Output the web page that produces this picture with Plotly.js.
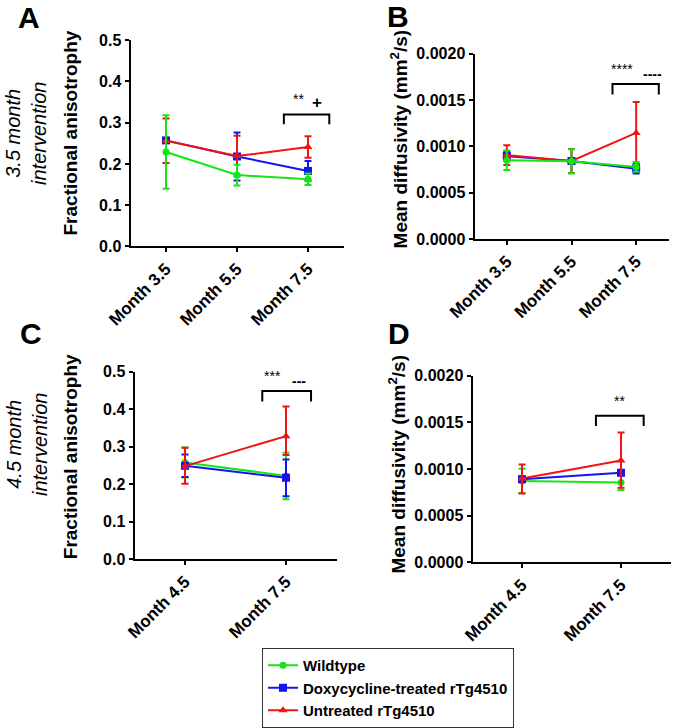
<!DOCTYPE html>
<html>
<head>
<meta charset="utf-8">
<script src="https://cdn.plot.ly/plotly-3.0.1.min.js"></script>
<style>html,body{margin:0;padding:0;background:#fff;}#chart{width:674px;height:728px;}</style>
</head>
<body>
<div id="chart"></div>
<script>
// ---------- categories ----------
const catsAB = ['Month 3.5', 'Month 5.5', 'Month 7.5'];
const catsCD = ['Month 4.5', 'Month 7.5'];
const seriesNames = ['Wildtype', 'Doxycycline-treated rTg4510', 'Untreated rTg4510'];

// ---------- Panel A: fractional anisotropy (3.5 month intervention) ----------
const A_wt = [0.229, 0.173, 0.163];
const A_wt_err = [0.089, 0.025, 0.014];
const A_doxy = [0.257, 0.218, 0.183];
const A_doxy_err = [0.003, 0.058, 0.024];
const A_untr = [0.256, 0.219, 0.241];
const A_untr_err = [0.054, 0.049, 0.026];

// ---------- Panel B: mean diffusivity (3.5 month intervention) ----------
const B_wt = [0.000849, 0.000838, 0.000778];
const B_wt_err = [0.000105, 0.00013, 0.000053];
const B_doxy = [0.000895, 0.000842, 0.000757];
const B_doxy_err = [0.00005, 0.00013, 0.00005];
const B_untr = [0.000905, 0.000842, 0.001145];
const B_untr_err = [0.000106, 0.00013, 0.000335];

// ---------- Panel C: fractional anisotropy (4.5 month intervention) ----------
const C_wt = [0.258, 0.222];
const C_wt_err = [0.04, 0.062];
const C_doxy = [0.249, 0.217];
const C_doxy_err = [0.03, 0.049];
const C_untr = [0.248, 0.328];
const C_untr_errUp = [0.049, 0.079];
const C_untr_errDown = [0.047, 0.05];

// ---------- Panel D: mean diffusivity (4.5 month intervention) ----------
const D_wt = [0.000872, 0.000855];
const D_wt_err = [0.00013, 0.00008];
const D_doxy = [0.00089, 0.00096];
const D_doxy_err = [0.00003, 0.00003];
const D_untr = [0.000897, 0.00109];
const D_untr_errUp = [0.00015, 0.0003];
const D_untr_errDown = [0.00016, 0.00029];

// ---------- significance marks ----------
const sigA = ['**', '+'];
const sigB = ['****', '----'];
const sigC = ['***', '---'];
const sigD = ['**'];

// ---------- styling ----------
const FONT = 'Liberation Sans, Arial, sans-serif';
const COLORS = ['#14e614', '#1414f0', '#f01414'];
const SYMBOLS = ['circle', 'square', 'triangle-up'];
const SIZES = [7, 8, 8];

function trace(k, xa, ya, cats, y, plus, minus, showlegend) {
  return {
    type: 'scatter', mode: 'lines+markers',
    x: cats.map((_, i) => i), y: y,
    xaxis: xa, yaxis: ya,
    name: seriesNames[k], legendrank: k + 1, showlegend: showlegend,
    line: {color: COLORS[k], width: 2},
    marker: {color: COLORS[k], symbol: SYMBOLS[k], size: SIZES[k]},
    error_y: {type: 'data', symmetric: false, array: plus, arrayminus: minus,
              color: COLORS[k], thickness: 2, width: 3.5},
    cliponaxis: false
  };
}

const data = [
  trace(1, 'x', 'y', catsAB, A_doxy, A_doxy_err, A_doxy_err, true),
  trace(2, 'x', 'y', catsAB, A_untr, A_untr_err, A_untr_err, true),
  trace(0, 'x', 'y', catsAB, A_wt, A_wt_err, A_wt_err, true),
  trace(1, 'x2', 'y2', catsAB, B_doxy, B_doxy_err, B_doxy_err, false),
  trace(2, 'x2', 'y2', catsAB, B_untr, B_untr_err, B_untr_err, false),
  trace(0, 'x2', 'y2', catsAB, B_wt, B_wt_err, B_wt_err, false),
  trace(0, 'x3', 'y3', catsCD, C_wt, C_wt_err, C_wt_err, false),
  trace(1, 'x3', 'y3', catsCD, C_doxy, C_doxy_err, C_doxy_err, false),
  trace(2, 'x3', 'y3', catsCD, C_untr, C_untr_errUp, C_untr_errDown, false),
  trace(0, 'x4', 'y4', catsCD, D_wt, D_wt_err, D_wt_err, false),
  trace(1, 'x4', 'y4', catsCD, D_doxy, D_doxy_err, D_doxy_err, false),
  trace(2, 'x4', 'y4', catsCD, D_untr, D_untr_errUp, D_untr_errDown, false)
];

function xaxis(domain, cats, anchor) {
  return {
    domain: domain, anchor: anchor, range: [-0.5, cats.length - 0.5],
    tickmode: 'array', tickvals: cats.map((_, i) => i), ticktext: cats,
    tickangle: -45, ticks: 'outside', ticklen: 4, tickwidth: 2, tickcolor: '#000',
    showline: true, linewidth: 2, linecolor: '#000',
    showgrid: false, zeroline: false, fixedrange: true,
    tickfont: {family: FONT, size: 17, color: '#000', weight: 'bold'}
  };
}
function yaxis(domain, range, dtick, fmt, anchor) {
  return {
    domain: domain, anchor: anchor, range: range, dtick: dtick, tickformat: fmt,
    ticks: 'outside', ticklen: 4, tickwidth: 2, tickcolor: '#000',
    showline: true, linewidth: 2, linecolor: '#000',
    showgrid: false, zeroline: false, fixedrange: true,
    tickfont: {family: FONT, size: 16, color: '#000', weight: 'bold'}
  };
}

const W = 674, H = 728;
const px = v => v / W;
const py = v => 1 - v / H;

function bracket(xa, ya, x0, x1, yTop, yBot) {
  return {type: 'path', xref: xa, yref: ya,
    path: `M ${x0},${yBot} L ${x0},${yTop} L ${x1},${yTop} L ${x1},${yBot}`,
    line: {color: '#000', width: 2}};
}

const shapes = [
  bracket('x', 'y', 1.66, 2.3, 0.32, 0.296),
  bracket('x2', 'y2', 1.634, 2.35, 0.001673, 0.00156),
  bracket('x3', 'y3', 0.765, 1.248, 0.4483, 0.4204),
  bracket('x4', 'y4', 0.747, 1.229, 0.00157, 0.001459)
];

function note(text, x, y, size, opts) {
  return Object.assign({text: text, x: x, y: y, xref: 'paper', yref: 'paper',
    xanchor: 'center', yanchor: 'middle', showarrow: false,
    font: {family: FONT, size: size, color: '#000'}}, opts || {});
}
function dnote(text, xa, ya, x, y, size, bold) {
  return {text: text, x: x, y: y, xref: xa, yref: ya, xanchor: 'center', yanchor: 'middle',
    showarrow: false, font: {family: FONT, size: size, color: '#000', weight: bold ? 'bold' : 'normal'}};
}

const annotations = [
  note('<b>A</b>', px(28.5), py(-1), 30, {yanchor: 'top'}),
  note('<b>B</b>', px(398), py(-2), 30, {yanchor: 'top'}),
  note('<b>C</b>', px(31), py(322), 30, {yanchor: 'top'}),
  note('<b>D</b>', px(398.5), py(322), 30, {yanchor: 'top'}),
  note('<i>3.5 month<br>intervention</i>', px(26), py(137), 20, {textangle: -90}),
  note('<i>4.5 month<br>intervention</i>', px(27), py(455), 20, {textangle: -90}),
  note('<b>Fractional anisotrophy</b>', px(70), py(136.5), 19, {textangle: -90}),
  note('<b>Mean diffusivity (mm<sup>2</sup>/s)</b>', px(399), py(141.5), 19, {textangle: -90}),
  note('<b>Fractional anisotrophy</b>', px(70), py(467.5), 19, {textangle: -90}),
  note('<b>Mean diffusivity (mm<sup>2</sup>/s)</b>', px(397), py(475), 19, {textangle: -90}),
  dnote(sigA[0], 'x', 'y', 1.873, 0.357, 14, false),
  dnote(sigA[1], 'x', 'y', 2.13, 0.348, 17, true),
  dnote(sigB[0], 'x2', 'y2', 1.777, 0.001832, 14, false),
  dnote(sigB[1], 'x2', 'y2', 2.257, 0.001779, 14, true),
  dnote(sigC[0], 'x3', 'y3', 0.871, 0.4875, 14, false),
  dnote(sigC[1], 'x3', 'y3', 1.129, 0.474, 14, true),
  dnote(sigD[0], 'x4', 'y4', 0.987, 0.001728, 14, false)
];

const layout = {
  width: W, height: H,
  margin: {l: 0, r: 0, t: 0, b: 0},
  paper_bgcolor: '#fff', plot_bgcolor: '#fff',
  font: {family: FONT, color: '#000'},
  xaxis: xaxis([px(130.5), px(343.5)], catsAB, 'y'),
  yaxis: yaxis([1 - 252 / H, 1 - 41 / H], [0, 0.5], 0.1, '.1f', 'x'),
  xaxis2: xaxis([px(474.5), px(668.5)], catsAB, 'y2'),
  yaxis2: yaxis([1 - 244.3 / H, 1 - 55 / H], [0, 0.002], 0.0005, '.4f', 'x2'),
  xaxis3: xaxis([px(134.5), px(336.5)], catsCD, 'y3'),
  yaxis3: yaxis([1 - 571.7 / H, 1 - 380 / H], [0, 0.5], 0.1, '.1f', 'x3'),
  xaxis4: xaxis([px(472.5), px(670.5)], catsCD, 'y4'),
  yaxis4: yaxis([1 - 575 / H, 1 - 384 / H], [0, 0.002], 0.0005, '.4f', 'x4'),
  showlegend: true,
  legend: {x: px(262), y: py(662.7), xanchor: 'left', yanchor: 'top',
    bordercolor: '#333', borderwidth: 1, bgcolor: '#fff', itemwidth: 30,
    font: {family: FONT, size: 15, color: '#000', weight: 'bold'},
    tracegroupgap: 0},
  shapes: shapes,
  annotations: annotations
};

Plotly.newPlot('chart', data, layout, {displayModeBar: false, staticPlot: true});
</script>
</body>
</html>
